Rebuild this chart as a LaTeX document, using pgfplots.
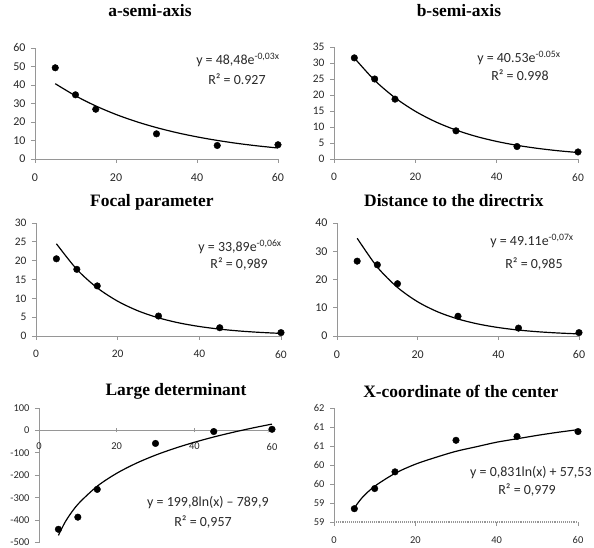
\documentclass[border=0pt]{standalone}
\usepackage{pgfplots}
\pgfplotsset{compat=1.18}
\usepackage{fontspec}
\setmainfont{Carlito}
\newfontfamily\titlefont{Liberation Serif}
\definecolor{axgray}{RGB}{150,150,150}
\definecolor{txt}{RGB}{40,40,40}
\pgfplotsset{
  panel/.style={
    scale only axis, anchor=south west,
    axis x line=bottom, axis y line=left,
    axis line style={-, draw=axgray, line width=0.9pt},
    every tick/.style={draw=axgray, line width=0.8pt},
    tick align=outside, major tick length=4bp,
    xmin=0, xmax=60, xtick={0,20,40,60},
    /pgf/number format/assume math mode=true,
    tick label style={text=txt},
    xticklabel style={yshift=-7bp},
    yticklabel style={xshift=-2bp},
    title style={font=\titlefont\bfseries\fontsize{17.5}{19}\selectfont, anchor=center},
    clip=false,
  },
  pts/.style={only marks, mark=*, mark size=3.3bp, black},
  trend/.style={no marks, black, line width=1.2pt, smooth},
}
\tikzset{eq/.style={font=\fontsize{14}{16}\selectfont, text=txt}}
\begin{document}
\begin{tikzpicture}
\useasboundingbox (0,0) rectangle (594bp,548bp);
% ---------- a-semi-axis
\begin{axis}[panel, at={(35bp,389bp)}, width=243bp, height=111bp,
  ymin=0, ymax=60, ytick={0,10,...,60},
  tick label style={font=\fontsize{12}{14}\selectfont},
  title={a-semi-axis}, title style={at={(axis description cs:0.473,1.28)}}]
\addplot[trend] coordinates {(5,40.70) (10,34.16) (15,28.68) (20,24.07) (25,20.21) (30,16.97) (35,14.24) (40,11.96) (45,10.04) (50,8.42) (55,7.07) (60,5.94)};
\addplot[pts] coordinates {(5,49.3) (10,34.7) (15,26.9) (30,13.6) (45,7.3) (60,7.7)};
\node[eq] at (axis description cs:0.835,0.892) {y = 48,48e\textsuperscript{-0,03x}};
\node[eq] at (axis description cs:0.831,0.721) {R² = 0.927};
\end{axis}
% ---------- b-semi-axis
\begin{axis}[panel, at={(334bp,389bp)}, width=244bp, height=112bp,
  ymin=0, ymax=35, ytick={0,5,...,35},
  tick label style={font=\fontsize{11.5}{13}\selectfont},
  title={b-semi-axis}, title style={at={(axis description cs:0.512,1.268)}}]
\addplot[trend] coordinates {(5,31.57) (10,24.58) (15,19.14) (20,14.91) (25,11.61) (30,9.04) (35,7.04) (40,5.49) (45,4.27) (50,3.33) (55,2.59) (60,2.02)};
\addplot[pts] coordinates {(5,31.6) (10,25.0) (15,18.7) (30,8.8) (45,3.9) (60,2.2)};
\node[eq] at (axis description cs:0.758,0.902) {y = 40.53e\textsuperscript{-0.05x}};
\node[eq] at (axis description cs:0.762,0.75) {R² = 0.998};
\end{axis}
% ---------- Focal parameter
\begin{axis}[panel, at={(36bp,212bp)}, width=245bp, height=113bp,
  ymin=0, ymax=30, ytick={0,5,...,30},
  tick label style={font=\fontsize{11.5}{13}\selectfont},
  title={Focal parameter}, title style={at={(axis description cs:0.473,1.133)}}]
\addplot[trend] coordinates {(5,24.49) (10,17.69) (15,12.78) (20,9.24) (25,6.67) (30,4.82) (35,3.48) (40,2.52) (45,1.82) (50,1.31) (55,0.95) (60,0.69)};
\addplot[pts] coordinates {(5,20.5) (10,17.7) (15,13.3) (30,5.3) (45,2.2) (60,0.9)};
\node[eq] at (axis description cs:0.833,0.788) {y = 33,89e\textsuperscript{-0,06x}};
\node[eq] at (axis description cs:0.829,0.637) {R² = 0,989};
\end{axis}
% ---------- Distance to the directrix
\begin{axis}[panel, at={(337bp,212bp)}, width=242bp, height=113bp,
  ymin=0, ymax=40, ytick={0,10,...,40},
  tick label style={font=\fontsize{12}{14}\selectfont},
  title={Distance to the directrix}, title style={at={(axis description cs:0.483,1.142)}}]
\addplot[trend] coordinates {(5,34.61) (10,24.39) (15,17.19) (20,12.11) (25,8.53) (30,6.01) (35,4.24) (40,2.99) (45,2.10) (50,1.48) (55,1.05) (60,0.74)};
\addplot[pts] coordinates {(5,26.5) (10,25.2) (15,18.5) (30,7.0) (45,2.8) (60,1.2)};
\node[eq] at (axis description cs:0.806,0.841) {y = 49.11e\textsuperscript{-0,07x}};
\node[eq] at (axis description cs:0.814,0.637) {R² = 0,985};
\end{axis}
% ---------- Large determinant
\begin{axis}[panel, at={(39bp,5.5bp)}, width=233bp, height=134.5bp,
  axis x line=middle, hide obscured x ticks=false,
  ymin=-500, ymax=100, ytick={-500,-400,...,100},
  tick label style={font=\fontsize{10.5}{12}\selectfont},
  title={Large determinant}, title style={at={(axis description cs:0.588,1.08)}}]
\addplot[trend] coordinates {(5,-468.3) (7,-401.1) (10,-329.8) (15,-248.8) (20,-191.4) (25,-146.8) (30,-110.3) (35,-79.6) (40,-52.9) (45,-29.3) (50,-8.3) (55,10.8) (60,28.2)};
\addplot[pts] coordinates {(5,-441) (10,-387) (15,-263) (30,-58) (45,-5) (60,5)};
\node[eq] at (axis description cs:0.725,0.295) {y = 199,8ln(x) – 789,9};
\node[eq] at (axis description cs:0.704,0.155) {R² = 0,957};
\end{axis}
% ---------- X-coordinate of the center
\begin{axis}[panel, at={(334bp,26bp)}, width=244bp, height=114bp,
  ymin=58.5, ymax=61.5, ytick={58.5,59,...,61.5},
  yticklabels={59,59,60,60,61,61,62},
  x axis line style={densely dotted, line width=1.3pt},
  tick label style={font=\fontsize{10.5}{12}\selectfont},
  title={X-coordinate of the center}, title style={at={(axis description cs:0.52,1.096)}}]
\addplot[trend] coordinates {(5,58.87) (7,59.15) (10,59.44) (15,59.78) (20,60.02) (25,60.20) (30,60.36) (35,60.48) (40,60.60) (45,60.69) (50,60.78) (55,60.86) (60,60.93)};
\addplot[pts] coordinates {(5,58.85) (10,59.38) (15,59.82) (30,60.65) (45,60.75) (60,60.88)};
\node[eq] at (axis description cs:0.807,0.432) {y = 0,831ln(x) + 57,53};
\node[eq] at (axis description cs:0.791,0.28) {R² = 0,979};
\end{axis}
\end{tikzpicture}
\end{document}
